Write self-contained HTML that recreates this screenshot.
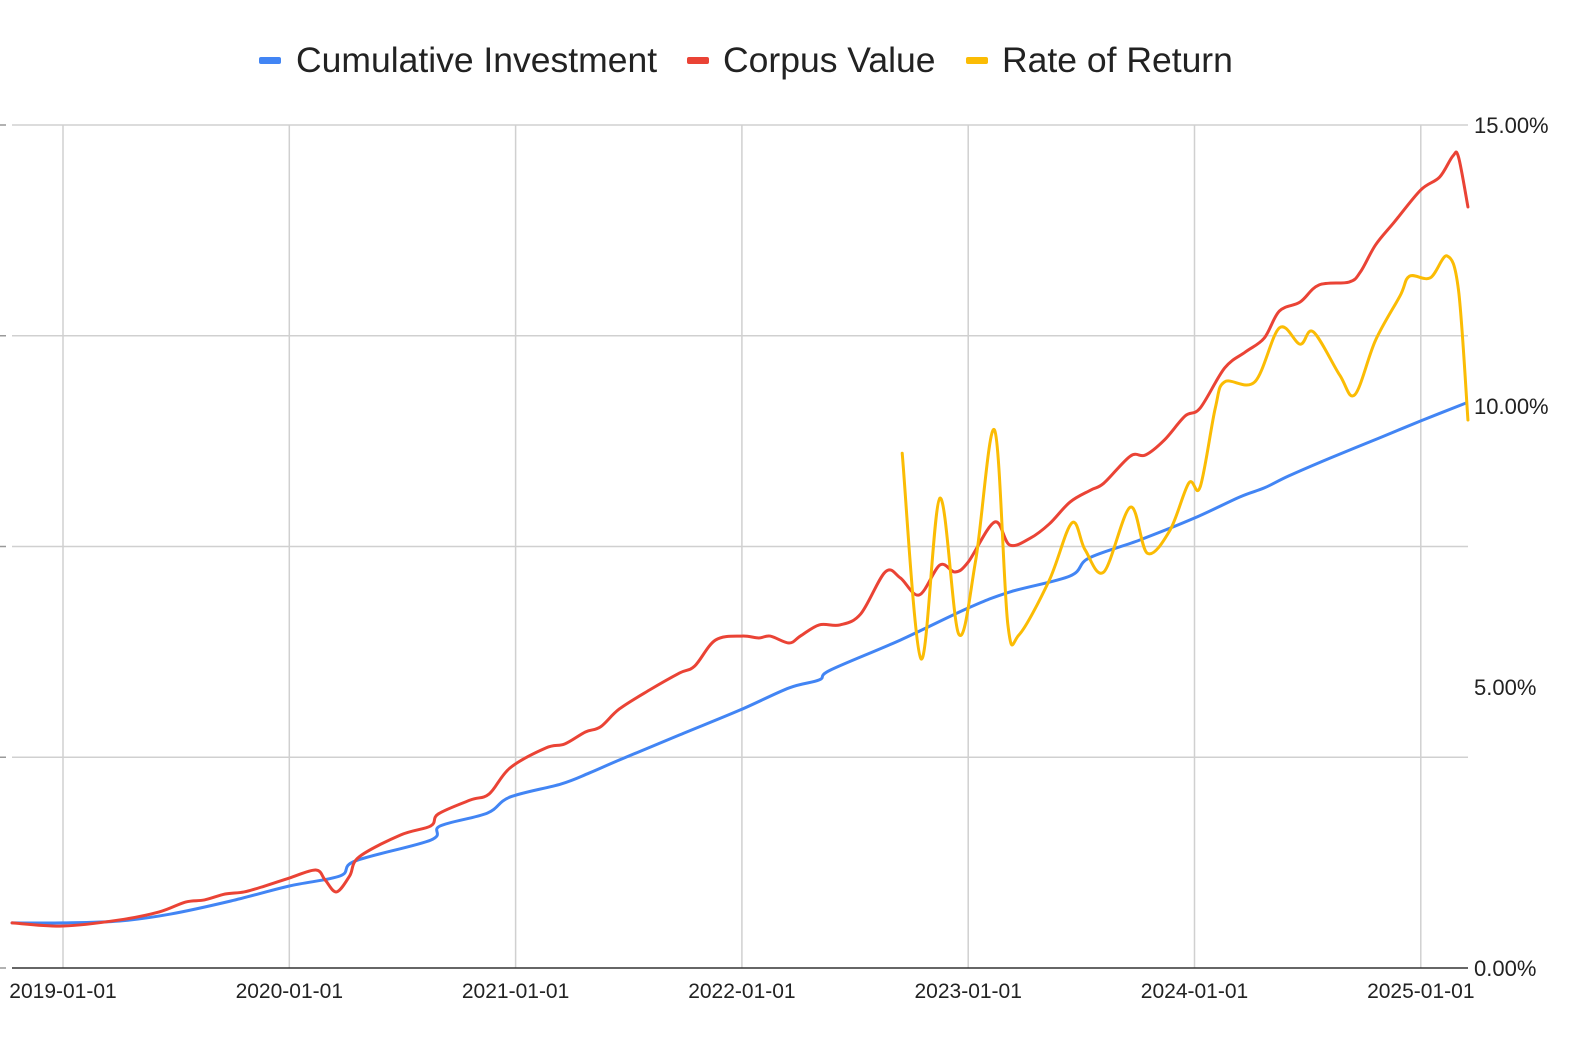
<!DOCTYPE html>
<html><head><meta charset="utf-8"><style>
body{margin:0;background:#fff;font-family:"Liberation Sans",Arial,sans-serif;}
svg{display:block}
</style></head><body>
<svg id="chart" width="1580" height="1042" xmlns="http://www.w3.org/2000/svg">
<g font-size="35.5" fill="#222">
 <g><rect x="259" y="57" width="22" height="7" rx="2" fill="#4285f4"/><text x="296" y="72">Cumulative Investment</text></g>
 <g><rect x="687" y="57" width="22" height="7" rx="2" fill="#ea4335"/><text x="723" y="72">Corpus Value</text></g>
 <g><rect x="966" y="57" width="22" height="7" rx="2" fill="#fbbc04"/><text x="1002" y="72">Rate of Return</text></g>
</g>
<g id="grid"></g>
<g id="xaxis"></g>
<g id="yaxis"></g>
<g id="series"></g>
</svg>
<script>
// months since 2019-01-01
const invMonths=[-2.7,0,3.0,5.7,8.9,12.0,14.7,15.5,19.5,20.0,22.5,23.7,26.4,27.9,29.5,32.7,35.9,38.5,40.1,40.7,44.4,48.0,50.2,53.4,54.4,57.1,60.0,62.4,63.7,65.0,67.2,69.8,72.0,74.4];
const invValues=[2.14,2.14,2.23,2.56,3.18,3.89,4.37,5.08,6.07,6.74,7.35,8.11,8.73,9.25,9.87,11.06,12.24,13.29,13.67,14.14,15.56,17.08,17.84,18.60,19.45,20.31,21.35,22.35,22.78,23.35,24.20,25.15,25.96,26.81];
const corpMonths=[-2.7,0,3.0,5.1,6.5,7.5,8.6,9.6,10.7,12.0,13.4,13.9,14.5,15.2,15.7,17.9,19.5,19.9,21.6,22.6,23.7,25.6,26.6,27.7,28.5,29.5,31.1,32.7,33.5,34.6,36.0,36.9,37.5,38.5,39.1,40.1,41.2,42.3,43.6,44.4,45.4,46.5,47.3,48.0,49.4,50.2,51.3,52.3,53.4,54.5,55.2,56.6,57.4,58.4,59.5,60.3,61.6,62.7,63.7,64.5,65.6,66.6,68.2,68.8,69.6,70.6,72.0,73.0,73.7,74.0,74.5];
const corpValues=[2.14,1.99,2.28,2.66,3.13,3.23,3.51,3.61,3.89,4.27,4.65,4.18,3.61,4.37,5.27,6.31,6.74,7.31,7.97,8.26,9.49,10.44,10.63,11.20,11.44,12.29,13.19,14.00,14.33,15.56,15.75,15.66,15.75,15.42,15.75,16.28,16.28,16.80,18.79,18.51,17.70,19.12,18.79,19.26,21.16,20.07,20.40,21.07,22.11,22.68,23.01,24.29,24.34,25.05,26.19,26.57,28.47,29.23,29.89,31.17,31.60,32.41,32.55,33.03,34.31,35.40,36.92,37.53,38.53,38.48,36.11];
const rateMonths=[44.5,45.5,46.5,47.5,48.4,49.4,50.1,50.7,52.3,53.5,54.2,55.2,56.6,57.5,58.7,59.7,60.3,61.1,61.6,63.2,64.5,65.6,66.3,67.7,68.5,69.6,70.9,71.4,72.5,73.4,74.0,74.5];
const rateValues=[9.16,5.50,8.36,5.94,7.26,9.57,6.12,5.93,6.90,7.92,7.44,7.05,8.20,7.38,7.79,8.63,8.56,9.96,10.43,10.43,11.39,11.10,11.32,10.55,10.20,11.17,11.96,12.31,12.28,12.67,12.06,9.75];
const xTickLabels=["2019-01-01","2020-01-01","2021-01-01","2022-01-01","2023-01-01","2024-01-01","2025-01-01"];
const leftTicks=[0,10,20,30,40];
const rightTickLabels=["0.00%","5.00%","10.00%","15.00%"];
const rightTicks=[0,5,10,15];

const X0=12,X1=1468,Y0=968,Y1=125;
const xs=m=>63+m*226.3/12;
const yl=v=>Y0-(v/40)*(Y0-Y1);
const yr=v=>Y0-(v/15)*(Y0-Y1);
const NS="http://www.w3.org/2000/svg";
function mk(tag,attrs,parent){const e=document.createElementNS(NS,tag);for(const k in attrs)e.setAttribute(k,attrs[k]);parent.appendChild(e);return e;}
const grid=document.getElementById('grid'),xa=document.getElementById('xaxis'),ya=document.getElementById('yaxis'),ser=document.getElementById('series');
leftTicks.forEach(v=>{const y=yl(v);
 if(v>0){const l=mk('line',{x1:X0,x2:X1,y1:y,y2:y,stroke:'#d0d0d0','stroke-width':1.5},grid);
 
 }
 const t=mk('line',{x1:0,x2:6,y1:y,y2:y,stroke:'#999','stroke-width':1.5},grid);
 
 
});
xTickLabels.forEach((s,i)=>{const x=xs(i*12);
 const l=mk('line',{x1:x,x2:x,y1:Y1,y2:Y0,stroke:'#d0d0d0','stroke-width':1.5},grid);
 
 
 const t=mk('text',{x:x,y:998,'text-anchor':'middle','font-size':21,fill:'#222'},xa);t.textContent=s;
 
 
});
const base=mk('line',{x1:X0,x2:X1,y1:Y0,y2:Y0,stroke:'#333','stroke-width':1.5},xa);


rightTicks.forEach((v,i)=>{const t=mk('text',{x:1474,y:yr(v)+8,'font-size':22,fill:'#222'},ya);t.textContent=rightTickLabels[i];
 
 
});
function smooth(pts){let d=`M${pts[0][0]},${pts[0][1]}`;
 for(let i=0;i<pts.length-1;i++){const p0=pts[Math.max(i-1,0)],p1=pts[i],p2=pts[i+1],p3=pts[Math.min(i+2,pts.length-1)];
 const c1=[p1[0]+(p2[0]-p0[0])/6,p1[1]+(p2[1]-p0[1])/6],c2=[p2[0]-(p3[0]-p1[0])/6,p2[1]-(p3[1]-p1[1])/6];
 d+=`C${c1[0]},${c1[1]} ${c2[0]},${c2[1]} ${p2[0]},${p2[1]}`;}return d;}
function line(ms,vs,ys,color,name){const pts=ms.map((m,i)=>[Math.max(X0,xs(m)),ys(vs[i])]);
 const p=mk('path',{d:smooth(pts),fill:'none',stroke:color,'stroke-width':3,'stroke-linejoin':'round','stroke-linecap':'round'},ser);
 
 }
line(invMonths,invValues,yl,'#4285f4','cumulative-investment-line');
line(corpMonths,corpValues,yl,'#ea4335','corpus-value-line');
line(rateMonths,rateValues,yr,'#fbbc04','rate-of-return-line');
</script>
</body></html>
